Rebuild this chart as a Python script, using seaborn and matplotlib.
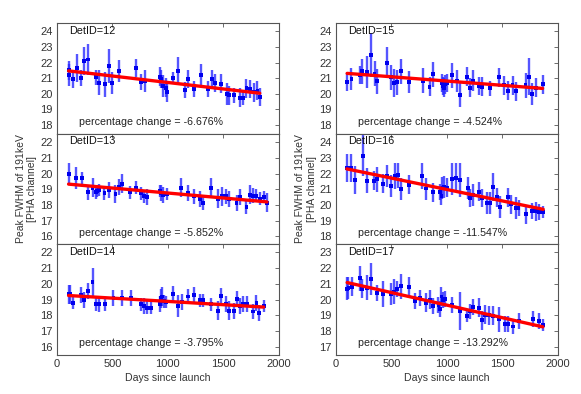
import numpy as np
import pandas as pd
import matplotlib
matplotlib.use("Agg")
import matplotlib.pyplot as plt
import seaborn as sns

# detector ids, laid out column by column (left: 12,13,14 / right: 15,16,17)
det_ids = [12, 13, 14, 15, 16, 17]
pct_change = [-6.676, -5.852, -3.795, -4.524, -11.547, -13.292]
trend_start = [21.47, 19.33, 19.26, 21.31, 22.30, 21.08]
ylims = [(17.45, 24.55), (15.5, 22.55), (15.5, 22.5),
         (17.45, 24.55), (17.5, 24.55), (16.5, 23.5)]

days12 = [105, 112, 147, 180, 219, 243, 282, 351, 378, 435, 468, 498, 558, 714, 759, 792, 930, 942, 960, 981, 993,
          1050, 1092, 1152, 1182, 1239, 1296, 1365, 1398, 1428, 1482, 1530, 1554, 1599, 1650, 1680, 1710, 1740,
          1776, 1809, 1830]
fwhm12 = [21.2, 21.5, 20.95, 21.65, 21.0, 22.1, 22.2, 21.05, 20.7, 20.6, 21.8, 20.7, 21.45, 21.65, 20.75, 20.8,
          21.1, 20.95, 20.5, 20.4, 20.1, 21.0, 21.45, 20.25, 20.95, 20.3, 21.2, 20.3, 20.95, 20.7, 20.65, 20.0,
          19.9, 19.9, 19.75, 19.75, 20.35, 20.3, 20.1, 20.2, 19.8]
err12 = [0.7, 0.6, 0.6, 0.9, 0.5, 0.9, 1.0, 0.5, 0.8, 0.8, 1.1, 0.7, 0.7, 0.6, 0.5, 0.7, 0.6, 0.6, 0.7, 0.6, 0.6,
         0.4, 0.9, 0.5, 0.6, 0.5, 0.7, 0.5, 0.6, 0.6, 0.6, 0.7, 0.6, 0.5, 0.6, 0.5, 0.6, 0.6, 0.6, 0.6, 0.6]

days13 = [105, 174, 222, 282, 321, 351, 363, 378, 429, 468, 528, 558, 588, 660, 711, 759, 786, 813, 930, 942,
          954, 990, 1116, 1179, 1233, 1290, 1320, 1389, 1452, 1485, 1524, 1554, 1620, 1650, 1710, 1740, 1770,
          1800, 1830, 1866, 1895]
fwhm13 = [20.0, 19.7, 19.7, 18.8, 19.1, 18.8, 18.9, 18.95, 18.75, 18.95, 18.7, 19.15, 19.35, 18.8, 19.1, 18.75,
          18.55, 18.5, 18.9, 18.75, 18.65, 18.7, 19.1, 18.75, 18.55, 18.4, 18.1, 19.1, 18.4, 18.55, 18.55, 18.4,
          18.15, 18.5, 17.9, 18.65, 18.6, 18.6, 18.4, 18.5, 18.15]
err13 = [0.7, 0.7, 0.4, 0.5, 0.6, 0.4, 0.4, 0.4, 0.4, 0.5, 0.6, 0.5, 0.6, 0.4, 0.4, 0.4, 0.4, 0.5, 0.4, 0.5,
         0.5, 0.4, 0.6, 0.5, 0.5, 0.5, 0.4, 0.6, 0.6, 0.6, 0.5, 0.5, 0.5, 0.5, 0.5, 0.6, 0.5, 0.4, 0.4, 0.4, 0.6]

days14 = [105, 117, 147, 219, 246, 282, 321, 351, 378, 435, 510, 585, 666, 759, 789, 816, 849, 930, 942, 951,
          966, 987, 1050, 1092, 1125, 1182, 1239, 1290, 1320, 1389, 1452, 1482, 1524, 1554, 1596, 1623, 1650,
          1680, 1716, 1770, 1800, 1827, 1866]
fwhm14 = [19.35, 19.35, 18.8, 19.3, 18.98, 19.55, 20.1, 18.7, 18.7, 18.7, 19.1, 19.1, 19.1, 18.7, 18.6, 18.5,
          18.5, 18.7, 19.1, 19.2, 18.9, 18.85, 19.35, 18.6, 18.85, 19.2, 19.3, 18.95, 18.95, 18.7, 18.3, 19.25,
          18.7, 18.3, 18.3, 19.05, 18.6, 18.7, 18.7, 18.25, 18.8, 18.15, 18.6]
err14 = [0.6, 0.6, 0.4, 0.5, 0.5, 0.5, 0.9, 0.4, 0.5, 0.4, 0.5, 0.5, 0.5, 0.4, 0.5, 0.4, 0.4, 0.5, 0.6, 0.6,
         0.4, 0.4, 0.5, 0.7, 0.5, 0.5, 0.5, 0.4, 0.4, 0.4, 0.6, 0.5, 0.5, 0.6, 0.5, 0.5, 0.5, 0.5, 0.5, 0.5,
         0.5, 0.5, 0.4]

days15 = [100, 139, 217, 236, 278, 314, 347, 371, 462, 492, 525, 553, 583, 658, 782, 843, 876, 954, 966, 975,
          985, 997, 1048, 1087, 1114, 1178, 1205, 1235, 1293, 1320, 1386, 1474, 1519, 1549, 1592, 1625, 1709,
          1737, 1767, 1800, 1863]
fwhm15 = [20.75, 20.95, 21.2, 21.45, 21.4, 22.5, 21.3, 20.8, 22.0, 21.05, 20.7, 20.75, 21.45, 20.75, 20.85,
          20.45, 21.25, 20.7, 20.5, 20.4, 20.6, 20.7, 21.2, 20.8, 19.95, 21.1, 20.4, 20.85, 20.5, 20.45, 20.35,
          21.05, 20.55, 20.2, 20.55, 20.15, 20.55, 21.1, 20.0, 20.4, 20.6]
err15 = [0.6, 0.7, 0.6, 0.8, 1.0, 1.4, 0.8, 0.8, 1.0, 0.8, 0.9, 0.8, 0.8, 0.7, 0.8, 0.6, 0.8, 0.6, 0.6, 0.6,
         0.6, 0.6, 0.8, 0.7, 0.8, 0.6, 0.6, 0.7, 0.6, 0.6, 0.5, 0.6, 0.6, 0.6, 0.6, 0.6, 0.8, 1.2, 0.7, 0.6, 0.6]

days16 = [97, 136, 169, 239, 278, 344, 368, 423, 459, 492, 529, 556, 583, 658, 779, 809, 876, 939, 951, 960,
          975, 997, 1042, 1084, 1117, 1187, 1208, 1235, 1293, 1320, 1359, 1389, 1416, 1456, 1480, 1549, 1576,
          1622, 1646, 1712, 1767, 1806, 1830, 1869]
fwhm16 = [22.35, 22.35, 21.6, 23.15, 21.55, 21.55, 21.65, 21.35, 21.85, 21.2, 21.85, 21.9, 21.0, 21.3, 21.85,
          21.05, 20.8, 20.85, 20.6, 21.1, 21.15, 21.1, 21.65, 21.75, 21.6, 21.1, 20.45, 20.65, 20.85, 20.45,
          20.1, 20.1, 21.15, 20.5, 19.9, 20.5, 20.05, 19.8, 19.8, 19.4, 19.6, 19.6, 19.55, 19.55]
err16 = [0.9, 0.9, 0.9, 1.3, 0.8, 0.6, 0.8, 0.6, 0.7, 0.7, 0.8, 0.8, 0.7, 0.6, 0.8, 0.7, 0.6, 0.5, 0.6, 0.7,
         0.7, 0.6, 1.0, 0.9, 1.1, 0.7, 0.6, 0.7, 0.6, 0.6, 0.7, 0.7, 0.9, 0.6, 0.7, 0.6, 0.6, 0.7, 0.5, 0.6,
         0.5, 0.6, 0.5, 0.4]

days17 = [100, 112, 142, 217, 236, 278, 314, 368, 426, 492, 525, 553, 583, 658, 713, 755, 812, 846, 876, 924,
          936, 951, 966, 982, 1045, 1117, 1178, 1205, 1235, 1293, 1320, 1347, 1377, 1416, 1474, 1525, 1552,
          1595, 1649, 1773, 1827, 1866]
fwhm17 = [20.7, 20.75, 20.8, 21.35, 20.7, 20.75, 21.3, 20.4, 20.35, 20.35, 20.5, 20.65, 20.85, 20.8, 19.9, 20.1,
          19.8, 20.0, 19.6, 19.65, 19.4, 20.2, 19.98, 20.05, 19.65, 19.3, 18.98, 19.25, 19.55, 19.5, 18.7,
          19.05, 19.0, 18.98, 18.75, 18.45, 18.45, 18.3, 18.65, 18.8, 18.65, 18.4]
err17 = [0.7, 0.7, 0.6, 0.8, 0.6, 0.8, 1.0, 0.5, 0.8, 0.7, 0.8, 0.5, 0.8, 0.6, 0.5, 0.5, 0.6, 0.6, 0.5, 0.5,
         0.5, 0.6, 0.5, 0.5, 0.5, 1.2, 0.4, 0.5, 0.5, 0.6, 0.6, 0.6, 0.6, 0.6, 0.8, 0.5, 0.5, 0.5, 0.5, 0.5,
         0.5, 0.4]

all_days = [days12, days13, days14, days15, days16, days17]
all_fwhm = [fwhm12, fwhm13, fwhm14, fwhm15, fwhm16, fwhm17]
all_err = [err12, err13, err14, err15, err16, err17]

sns.set_theme(style="white")
plt.rcParams["font.family"] = ["Liberation Sans", "DejaVu Sans"]
plt.rcParams["font.size"] = 8

fig, axes = plt.subplots(3, 2, figsize=(5.81, 3.94), dpi=100, sharex=True)
fig.subplots_adjust(left=0.098, right=0.96, top=0.942, bottom=0.099, hspace=0, wspace=0.259)

for k, det in enumerate(det_ids):
    ax = axes[k % 3, k // 3]
    df = pd.DataFrame({"days": all_days[k], "fwhm": all_fwhm[k], "err": all_err[k]})

    ax.errorbar(df["days"], df["fwhm"], yerr=df["err"], fmt="none", ecolor="#2a2aff",
                elinewidth=1.7, alpha=0.8, zorder=2)
    sns.scatterplot(data=df, x="days", y="fwhm", ax=ax, marker="s", s=8, color="#0000ee",
                    edgecolor="none", zorder=3, legend=False)

    # linear trend from first to last day
    d0, d1 = df["days"].iloc[0], df["days"].iloc[-1]
    y0 = trend_start[k]
    y1 = y0 * (1 + pct_change[k] / 100)
    trend = pd.DataFrame({"days": [d0, d1], "fwhm": [y0, y1]})
    sns.lineplot(data=trend, x="days", y="fwhm", ax=ax, color="#ff0000", linewidth=2.4, zorder=4)

    ax.set_xlim(0, 2000)
    ax.set_ylim(*ylims[k])
    lo = int(np.ceil(ylims[k][0]))
    hi = int(np.floor(ylims[k][1]))
    ax.set_yticks(range(lo, hi + 1))
    ax.set_xticks([0, 500, 1000, 1500, 2000])
    ax.tick_params(direction="in", length=3, width=0.6, color="#555555", labelcolor="#333333",
                   labelsize=8, top=True, right=True, pad=3)
    for sp in ax.spines.values():
        sp.set_color("#555555")
        sp.set_linewidth(0.8)
    ax.set_xlabel("")
    ax.set_ylabel("")

    xt = 0.055 if k < 3 else 0.053
    ax.text(xt, 0.93, f"DetID={det}", transform=ax.transAxes, fontsize=7.8,
            va="center", ha="left", color="#111111")
    ax.text(0.10 if k < 3 else 0.098, 0.105, f"percentage change = {pct_change[k]:.3f}%",
            transform=ax.transAxes, fontsize=7.7, va="center", ha="left", color="#222222")

for col in range(2):
    axes[1, col].set_ylabel("Peak FWHM of 191keV\n[PHA channel]", fontsize=7.5, color="#333333",
                            labelpad=2)
    axes[2, col].set_xlabel("Days since launch", fontsize=7.6, color="#333333", labelpad=3)

fig.savefig("out.png", dpi=100, facecolor="white")
